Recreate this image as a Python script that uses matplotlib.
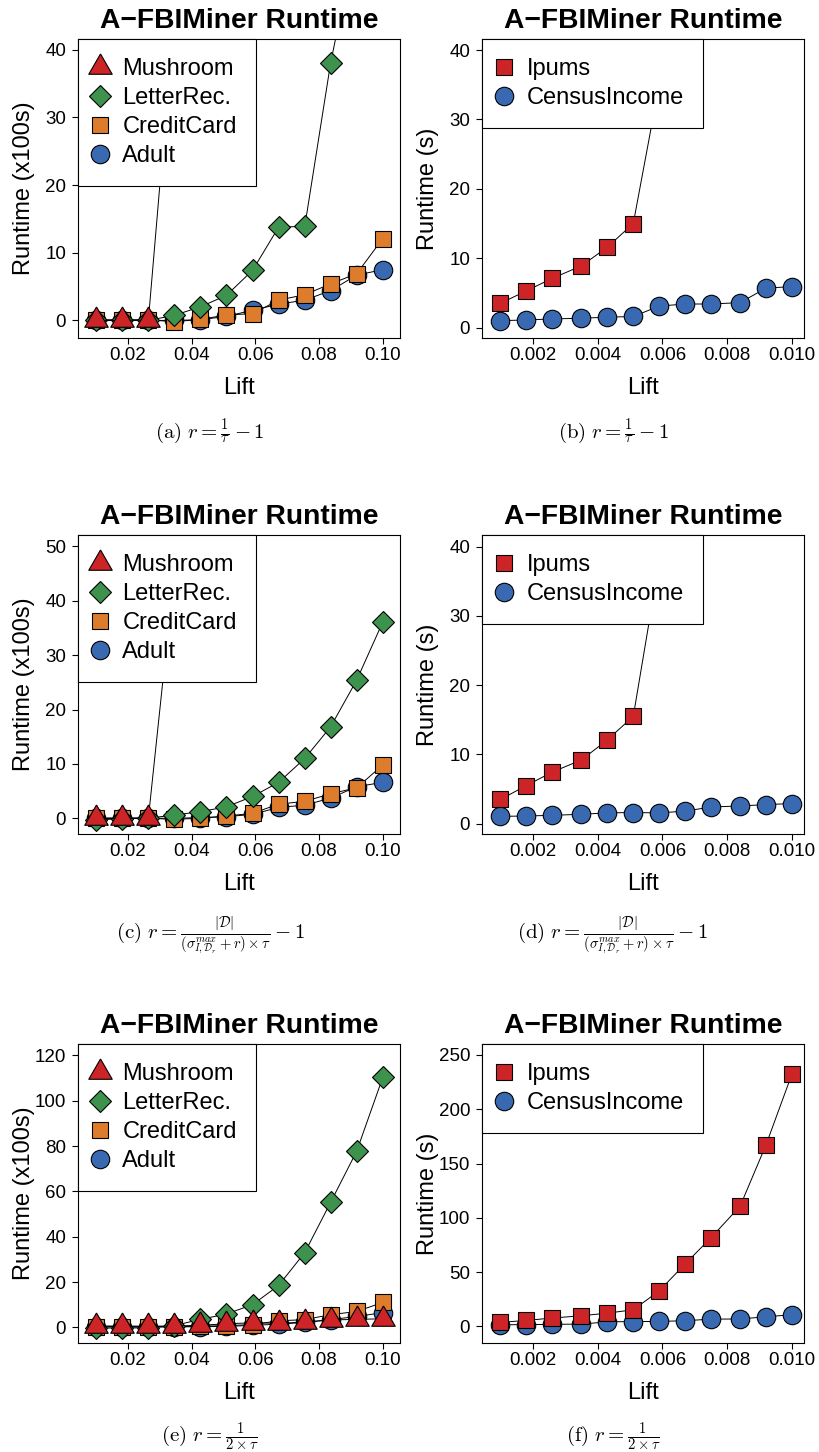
#!/usr/bin/env python3
# Temps d'exécution d'A-FBIMiner en fonction du seuil de lift,
# pour trois choix du paramètre r (une ligne de figures par choix).

import numpy as np
import matplotlib
matplotlib.use("Agg")
import matplotlib.pyplot as plt
from matplotlib.lines import Line2D

plt.rcParams['font.family'] = ['Liberation Sans', 'DejaVu Sans']
plt.rcParams['mathtext.fontset'] = 'cm'

# Seuils de lift testés
lift_small = [0.01, 0.0182, 0.0264, 0.0345, 0.0427, 0.0509, 0.0591, 0.0673, 0.0755, 0.0836, 0.0918, 0.10]
lift_large = [0.001, 0.0018, 0.0026, 0.0035, 0.0043, 0.0051, 0.0059, 0.0067, 0.0075, 0.0084, 0.0092, 0.010]

# (a)/(b) : r = 1/tau - 1   (runs hors échelle non listés)
a_mushroom = [0.0, 0.0, 0.05, 45.0]
a_letter = [0.0, 0.0, 0.0, 0.75, 2.0, 3.7, 7.4, 13.8, 13.9, 38.0, 57.0]
a_credit = [0.1, 0.1, 0.1, -0.2, 0.15, 0.8, 1.0, 3.0, 3.8, 5.4, 6.9, 12.1]
a_adult = [0.0, 0.0, 0.0, 0.0, 0.1, 0.6, 1.5, 2.4, 3.0, 4.4, 6.7, 7.5]
b_ipums = [3.5, 5.3, 7.1, 8.9, 11.6, 15.0, 35.0]
b_census = [1.0, 1.1, 1.25, 1.35, 1.5, 1.6, 3.1, 3.4, 3.4, 3.6, 5.7, 5.9]

# (c)/(d) : r = |D| / ((sigma_max + r) * tau) - 1
c_mushroom = [0.0, 0.0, 0.05, 45.0]
c_letter = [-0.3, -0.1, 0.0, 0.6, 1.2, 2.1, 4.0, 6.6, 11.0, 16.8, 25.4, 36.1]
c_credit = [0.0, 0.0, 0.0, -0.2, 0.0, 0.4, 0.9, 2.6, 3.1, 4.5, 5.6, 9.8]
c_adult = [0.0, 0.0, 0.0, 0.0, 0.1, 0.3, 0.7, 2.0, 2.4, 3.7, 5.8, 6.6]
d_ipums = [3.5, 5.5, 7.45, 9.2, 12.1, 15.5, 37.8]
d_census = [1.05, 1.1, 1.2, 1.35, 1.55, 1.6, 1.55, 1.8, 2.4, 2.55, 2.75, 2.9]

# (e)/(f) : r = 1 / (2 * tau)
e_mushroom = [0.6, 0.6, 0.5, 0.6, 0.9, 1.6, 2.0, 1.8, 2.3, 3.3, 3.5, 3.8]
e_letter = [-0.3, -0.3, -0.2, 0.8, 3.5, 5.9, 10.0, 18.5, 33.0, 55.1, 77.7, 110.3]
e_credit = [0.3, 0.3, 0.3, 0.3, 0.5, 0.8, 1.2, 2.9, 3.4, 5.6, 7.0, 11.0]
e_adult = [0.2, 0.2, 0.2, 0.2, 0.3, 0.4, 0.9, 1.4, 2.2, 3.4, 4.8, 6.5]
f_ipums = [3.7, 5.5, 7.7, 9.8, 12.2, 15.3, 32.7, 57.5, 81.7, 110.8, 167.4, 232.6]
f_census = [1.5, 1.6, 1.9, 2.1, 4.2, 4.4, 4.6, 5.2, 6.7, 6.8, 8.9, 10.7]

# Triangle centré sur son barycentre (comme pch=24 de R)
TRIANGLE = np.array([(0, 1), (-0.866, -0.5), (0.866, -0.5), (0, 1)])

STYLE = {
    'Mushroom': dict(marker=TRIANGLE, mfc='#CD2428', ms=19.5),
    'LetterRec.': dict(marker='D', mfc='#3D924E', ms=11),
    'CreditCard': dict(marker='s', mfc='#DE7C2E', ms=11.2),
    'Adult': dict(marker='o', mfc='#3969B1', ms=13.3),
    'Ipums': dict(marker='s', mfc='#CD2428', ms=11.2),
    'CensusIncome': dict(marker='o', mfc='#3969B1', ms=13.3),
}

W, H = 819, 1452
fig = plt.figure(figsize=(W / 100, H / 100), dpi=100)

AX_W = 322 / W
AX_H = 299 / H
LEFT_X = [78 / W, 482 / W]
BOTTOM_Y = [1 - 338 / H, 1 - 834 / H, 1 - 1343 / H]
CAPTION_X = [210 / W, 613 / W]
CAPTION_Y = [1 - 438 / H, 1 - 939 / H, 1 - 1442 / H]


def draw_panel(col, row, series, lift, ylim, yticks, xlim, xticks, xlabels, ylabel, caption):
    ax = fig.add_axes([LEFT_X[col], BOTTOM_Y[row], AX_W, AX_H])

    # tracé dans l'ordre : la dernière série passe au-dessus
    for name, values in series:
        st = STYLE[name]
        ax.plot(lift[:len(values)], values, color='black', lw=0.7,
                marker=st['marker'], ms=st['ms'], mfc=st['mfc'],
                mec='black', mew=0.8)

    ax.set_xlim(*xlim)
    ax.set_ylim(*ylim)
    ax.set_xticks(xticks)
    ax.set_xticklabels(xlabels)
    ax.set_yticks(yticks)
    ax.tick_params(direction='out', length=4.3, width=0.8, labelsize=13.5)
    ax.tick_params(axis='x', pad=2.5)
    ax.tick_params(axis='y', pad=4.3)
    for sp in ax.spines.values():
        sp.set_linewidth(0.8)

    ax.set_title('A\u2212FBIMiner Runtime', fontsize=20.3, fontweight='bold', pad=7.7)
    ax.set_xlabel('Lift', fontsize=17)
    ax.xaxis.set_label_coords(0.5, -0.129)
    ax.set_ylabel(ylabel, fontsize=17)
    ax.yaxis.set_label_coords(-0.135, 0.5)

    # légende : marqueurs seuls, ordre inverse du tracé
    handles, labels = [], []
    for name, _ in reversed(series):
        st = STYLE[name]
        handles.append(Line2D([], [], ls='none', marker=st['marker'], ms=st['ms'],
                              mfc=st['mfc'], mec='black', mew=0.8))
        labels.append(name)
    leg = ax.legend(handles, labels, loc='upper left', bbox_to_anchor=(0, 1),
                    borderaxespad=0, fontsize=17, fancybox=False, framealpha=1,
                    edgecolor='black', borderpad=0.8, handlelength=0.28,
                    handletextpad=0.8, labelspacing=0.3)
    leg.get_frame().set_linewidth(0.8)

    fig.text(CAPTION_X[col], CAPTION_Y[row], caption, ha='center', va='baseline', fontsize=15)
    return ax


xt_small = [0.02, 0.04, 0.06, 0.08, 0.10]
xl_small = ['0.02', '0.04', '0.06', '0.08', '0.10']
xt_large = [0.002, 0.004, 0.006, 0.008, 0.010]
xl_large = ['0.002', '0.004', '0.006', '0.008', '0.010']
xlim_small = (0.0043, 0.1054)
xlim_large = (0.00043, 0.01037)

cap_ab = r'$\mathrm{(%s)}\ r = \frac{1}{\tau} - 1$'
cap_cd = r'$\mathrm{(%s)}\ r = \frac{|\mathcal{D}|}{(\sigma^{max}_{I,\mathcal{D}_r}+r)\times\tau} - 1$'
cap_ef = r'$\mathrm{(%s)}\ r = \frac{1}{2\times\tau}$'

draw_panel(0, 0, [('Adult', a_adult), ('CreditCard', a_credit), ('LetterRec.', a_letter), ('Mushroom', a_mushroom)],
           lift_small, (-2.6, 41.6), [0, 10, 20, 30, 40], xlim_small, xt_small, xl_small,
           'Runtime (x100s)', cap_ab % 'a')
draw_panel(1, 0, [('CensusIncome', b_census), ('Ipums', b_ipums)],
           lift_large, (-1.5, 41.6), [0, 10, 20, 30, 40], xlim_large, xt_large, xl_large,
           'Runtime (s)', cap_ab % 'b')
draw_panel(0, 1, [('Adult', c_adult), ('CreditCard', c_credit), ('LetterRec.', c_letter), ('Mushroom', c_mushroom)],
           lift_small, (-2.9, 52.1), [0, 10, 20, 30, 40, 50], xlim_small, xt_small, xl_small,
           'Runtime (x100s)', cap_cd % 'c')
draw_panel(1, 1, [('CensusIncome', d_census), ('Ipums', d_ipums)],
           lift_large, (-1.5, 41.7), [0, 10, 20, 30, 40], xlim_large, xt_large, xl_large,
           'Runtime (s)', cap_cd % 'd')
draw_panel(0, 2, [('Adult', e_adult), ('CreditCard', e_credit), ('LetterRec.', e_letter), ('Mushroom', e_mushroom)],
           lift_small, (-6.9, 125.0), [0, 20, 40, 60, 80, 100, 120], xlim_small, xt_small, xl_small,
           'Runtime (x100s)', cap_ef % 'e')
draw_panel(1, 2, [('CensusIncome', f_census), ('Ipums', f_ipums)],
           lift_large, (-15.3, 260.1), [0, 50, 100, 150, 200, 250], xlim_large, xt_large, xl_large,
           'Runtime (s)', cap_ef % 'f')

fig.savefig('out.png', dpi=100)
print("Figure sauvegardée : out.png")
